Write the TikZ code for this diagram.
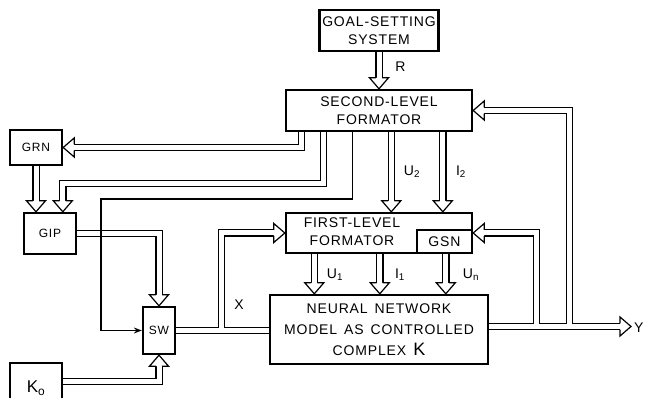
\documentclass[tikz,border=0pt]{standalone}
\usepackage{fontspec}
\newfontfamily\lett[LetterSpace=6]{Liberation Sans}
\usetikzlibrary{arrows.meta}

\tikzset{
  box/.style={draw, line width=2.4pt, inner sep=0pt, align=center, font=\lett\fontsize{14}{17.5}\selectfont},
  smallbox/.style={box, font=\lett\fontsize{12}{14}\selectfont},
  lbl/.style={inner sep=0pt, font=\lett\fontsize{14}{14}\selectfont},
  dout/.style={line width=7.4pt},
  din/.style={line width=5pt, white},
  tohead/.style={shorten >=11pt},
  hd/.pic={\draw[fill=white, line width=1.2pt] (-11,3.1) -- (-11,9.5) -- (0,0) -- (-11,-9.5) -- (-11,-3.1);}
}

\begin{document}
\begin{tikzpicture}[x=1pt, y=1pt, >=Stealth]
    \useasboundingbox (0,0) rectangle (645,398);
    % blocks
    \node[box, minimum width=119pt, minimum height=41pt] (goal) at (379,367.5) {GOAL-SETTING\\SYSTEM};
    \node[box, minimum width=186pt, minimum height=41pt] (second) at (379,287.5) {SECOND-LEVEL\\FORMATOR};
    \node[box, minimum width=186pt, minimum height=40pt] (first) at (379,165) {};
    \node[box, minimum width=55pt, minimum height=23pt, anchor=south east] (gsn) at (first.south east) {GSN};
    \node[lbl, align=center, font=\lett\fontsize{14}{18}\selectfont] (firsttxt) at (352,166) {FIRST-LEVEL\\FORMATOR};
    \node[box, minimum width=218pt, minimum height=69pt, font=\lett\fontsize{14}{21}\selectfont] (nn) at (379,68.5)
        {NEURAL\enspace NETWORK\\MODEL\enspace AS\enspace CONTROLLED\\COMPLEX\enspace{\fontsize{18}{18}\selectfont K}};
    \node[smallbox, minimum width=52pt, minimum height=35pt] (grn) at (36,250.5) {GRN};
    \node[smallbox, minimum width=52pt, minimum height=41pt] (gip) at (50,164.5) {GIP};
    \node[smallbox, minimum width=32pt, minimum height=47pt] (sw) at (159,67.5) {SW};
    \node[box, minimum width=52pt, minimum height=50pt, font=\lett\fontsize{17}{17}\selectfont] (ko) at (36,10) {K\textsubscript{o}};

    \coordinate (gipin) at ([xshift=40pt]gip.north west);
    \coordinate (bend) at (101,199);
    \coordinate (yout) at (631,71.5);

    % double lines: black first, then white core
    \foreach \ly in {dout,din}{
        \draw[\ly, tohead] (goal.south) -- (second.north);
        \draw[\ly, tohead] ([xshift=16.5pt]second.south west) |- (grn.east);
        \draw[\ly, tohead] ([xshift=38.5pt]second.south west) -- ++(0,-51.5) -| (gipin);
        \draw[\ly, tohead] (grn.south) -- (grn.south |- gip.north);
        \draw[\ly, tohead] (gip.east) -| (sw.north);
        \draw[\ly, tohead] ([yshift=6.5pt]ko.east) -| (sw.south);
        \draw[\ly] (sw.east) -- (sw.east -| nn.west);
        \draw[\ly, tohead] (sw.east) -| ([xshift=-63.5pt]first.west) -- (first.west);
        \draw[\ly, tohead] ([xshift=106.5pt]second.south west) -- ([xshift=106.5pt]first.north west);
        \draw[\ly, tohead] ([xshift=158pt]second.south west) -- ([xshift=158pt]first.north west);
        \draw[\ly, tohead] ([xshift=29.5pt]first.south west) -- ([xshift=45.5pt]nn.north west);
        \draw[\ly, tohead] ([xshift=95pt]first.south west) -- ([xshift=111pt]nn.north west);
        \draw[\ly, tohead] ([xshift=161pt]first.south west) -- ([xshift=177pt]nn.north west);
        \draw[\ly, tohead] ([yshift=3pt]nn.east) -- (yout);
        \draw[\ly, tohead] ([yshift=3pt]nn.east) -| ([xshift=63.5pt]first.east) -- (first.east);
        \draw[\ly, tohead] ([yshift=3pt]nn.east) -| ([xshift=96pt]second.east) -- (second.east);
    }

    % heads
    \pic[rotate=-90] at (second.north) {hd};
    \pic[rotate=180] at (grn.east) {hd};
    \pic[rotate=-90] at (gipin) {hd};
    \pic[rotate=-90] at (grn.south |- gip.north) {hd};
    \pic[rotate=-90] at (sw.north) {hd};
    \pic[rotate=90] at (sw.south) {hd};
    \pic at (first.west) {hd};
    \pic[rotate=180] at (first.east) {hd};
    \pic[rotate=180] at (second.east) {hd};
    \pic[rotate=-90] at ([xshift=106.5pt]first.north west) {hd};
    \pic[rotate=-90] at ([xshift=158pt]first.north west) {hd};
    \pic[rotate=-90] at ([xshift=45.5pt]nn.north west) {hd};
    \pic[rotate=-90] at ([xshift=111pt]nn.north west) {hd};
    \pic[rotate=-90] at ([xshift=177pt]nn.north west) {hd};
    \pic at (yout) {hd};

    % thin switch line
    \draw[line width=1.1pt, ->] ([xshift=68pt]second.south west) |- (bend) |- (sw.west);

    % labels
    \node[lbl] (rlab) at (400.5,331) {R};
    \node[lbl] (u2lab) at (412,226) {U\textsubscript{2}};
    \node[lbl] (i2lab) at (461,226) {I\textsubscript{2}};
    \node[lbl] (u1lab) at (335,123) {U\textsubscript{1}};
    \node[lbl] (i1lab) at (400,123) {I\textsubscript{1}};
    \node[lbl] (unlab) at (471,123) {U\textsubscript{n}};
    \node[lbl] (xlab) at (239,93) {X};
    \node[lbl, anchor=west] (ylab) at (634,70) {Y};
\end{tikzpicture}
\end{document}
